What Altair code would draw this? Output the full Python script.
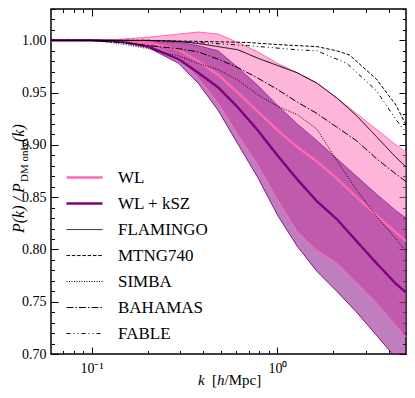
import altair as alt
import pandas as pd

# ---- data ----
k = [0.0605, 0.1, 0.141, 0.203, 0.294, 0.375, 0.48, 0.612, 0.783, 1.0,
     1.278, 1.633, 2.085, 2.664, 3.404, 4.347, 4.915]
wl_mean = [1.000, 1.000, 1.000, 0.998, 0.991, 0.980, 0.967, 0.950, 0.932, 0.914,
           0.898, 0.884, 0.868, 0.850, 0.833, 0.816, 0.808]
wl_lo = [1.000, 1.000, 1.000, 0.996, 0.984, 0.964, 0.940, 0.910, 0.881, 0.848,
         0.817, 0.799, 0.787, 0.768, 0.749, 0.727, 0.716]
wl_hi = [1.000, 1.000, 1.001, 1.003, 1.006, 1.008, 1.006, 0.998, 0.989, 0.978,
         0.969, 0.959, 0.945, 0.930, 0.915, 0.900, 0.893]
ksz_mean = [1.000, 1.000, 0.999, 0.994, 0.982, 0.969, 0.955, 0.936, 0.914, 0.890,
            0.867, 0.846, 0.829, 0.808, 0.787, 0.767, 0.759]
ksz_lo = [1.000, 1.000, 0.999, 0.993, 0.978, 0.959, 0.933, 0.901, 0.869, 0.833,
          0.803, 0.779, 0.760, 0.740, 0.718, 0.696, 0.687]
ksz_hi = [1.000, 1.000, 1.000, 0.999, 0.998, 0.995, 0.990, 0.974, 0.957, 0.938,
          0.920, 0.904, 0.887, 0.870, 0.853, 0.837, 0.830]
flamingo = [1.000, 1.000, 1.000, 1.000, 0.999, 0.997, 0.994, 0.991, 0.983, 0.976,
            0.969, 0.959, 0.945, 0.928, 0.908, 0.888, 0.879]
simba = [1.000, 1.000, 0.997, 0.992, 0.985, 0.978, 0.972, 0.962, 0.948, 0.937,
         0.929, 0.915, 0.885, 0.857, 0.832, 0.810, 0.798]
bahamas = [1.000, 1.000, 0.998, 0.995, 0.992, 0.989, 0.982, 0.974, 0.964, 0.953,
           0.941, 0.930, 0.917, 0.904, 0.887, 0.872, 0.865]
k_mtng = [0.0605, 0.2, 0.375, 0.69, 1.0, 1.633, 2.085, 2.44, 2.664, 3.404, 4.347, 4.915]
mtng = [1.000, 1.000, 0.999, 0.998, 0.996, 0.994, 0.990, 0.986, 0.980, 0.963, 0.938, 0.919]
k_fable = [0.0605, 0.203, 0.375, 0.69, 1.278, 1.633, 2.36, 3.404, 4.347, 4.915]
fable = [1.000, 1.000, 0.998, 0.995, 0.991, 0.990, 0.978, 0.952, 0.924, 0.912]

series_names = ["WL", "WL + kSZ", "FLAMINGO", "MTNG740", "SIMBA", "BAHAMAS", "FABLE"]
series_colors = ["#ff69b4", "#800080", "black", "black", "black", "black", "black"]
series_dash = [[1, 0], [1, 0], [1, 0], [3.5, 1.8], [1, 1.5], [7, 2, 1.5, 2], [4, 3, 1, 3, 1, 3]]
series_width = [2.4, 2.4, 1.0, 1.0, 1.0, 1.0, 1.0]

y_major = [0.70, 0.75, 0.80, 0.85, 0.90, 0.95, 1.00]
y_minor = [round(0.70 + 0.01 * i, 2) for i in range(34)]
x_major = [0.1, 1.0]
x_minor = [0.07, 0.08, 0.09, 0.2, 0.3, 0.4, 0.5, 0.6, 0.7, 0.8, 0.9, 2.0, 3.0, 4.0]

W, H = 355, 345
PINK, PURPLE = "#ff69b4", "#800080"
FONT = "Liberation Serif"

bands = pd.DataFrame({"k": k, "wl_lo": wl_lo, "wl_hi": wl_hi,
                      "ksz_lo": ksz_lo, "ksz_hi": ksz_hi})
rows = []
for name, ks, vs in [("WL", k, wl_mean), ("WL + kSZ", k, ksz_mean),
                     ("FLAMINGO", k, flamingo), ("MTNG740", k_mtng, mtng),
                     ("SIMBA", k, simba), ("BAHAMAS", k, bahamas),
                     ("FABLE", k_fable, fable)]:
    for a, b in zip(ks, vs):
        rows.append({"k": a, "r": b, "series": name})
lines = pd.DataFrame(rows)

xs = alt.Scale(type="log", domain=[0.0605, 4.915], nice=False)
ys = alt.Scale(domain=[0.70, 1.03], nice=False, zero=False)

base = alt.Chart(bands)

wl_band = base.mark_area(color=PINK, opacity=0.5, clip=True).encode(
    x=alt.X("k:Q", scale=xs, axis=alt.Axis(values=x_major, labelExpr="datum.value < 0.5 ? '10⁻¹' : '10⁰'",
                                          ticks=False, domain=False, grid=False, title=None,
                                          labelFontSize=14, labelPadding=7, orient="bottom")),
    y=alt.Y("wl_lo:Q", scale=ys, axis=alt.Axis(values=y_major, format=".2f", ticks=False,
                                               domain=False, grid=False, title=None,
                                               labelFontSize=14, labelPadding=5, orient="left")),
    y2="wl_hi:Q",
)
ksz_band = base.mark_area(color=PURPLE, opacity=0.5, clip=True).encode(
    x=alt.X("k:Q", scale=xs, axis=None),
    y=alt.Y("ksz_lo:Q", scale=ys, axis=None),
    y2="ksz_hi:Q",
)


def edge(field, color, op):
    return base.mark_line(color=color, strokeWidth=1, opacity=op, clip=True).encode(
        x=alt.X("k:Q", scale=xs, axis=None), y=alt.Y(f"{field}:Q", scale=ys, axis=None))


edges = [edge("wl_lo", PINK, 1.0), edge("wl_hi", PINK, 1.0),
         edge("ksz_lo", PURPLE, 0.9), edge("ksz_hi", PURPLE, 0.6)]

legend = alt.Legend(title=None, orient="none", legendX=14, legendY=156,
                    symbolType="stroke", symbolSize=1296, labelFontSize=17,
                    labelFont=FONT, rowPadding=0, padding=0, labelOffset=14,
                    clipHeight=25.1)
line_layer = alt.Chart(lines).mark_line(clip=True).encode(
    x=alt.X("k:Q", scale=xs, axis=None),
    y=alt.Y("r:Q", scale=ys, axis=None),
    color=alt.Color("series:N", scale=alt.Scale(domain=series_names, range=series_colors), legend=legend),
    strokeDash=alt.StrokeDash("series:N", scale=alt.Scale(type="ordinal", domain=series_names, range=series_dash), legend=legend),
    strokeWidth=alt.StrokeWidth("series:N", scale=alt.Scale(type="ordinal", domain=series_names, range=series_width), legend=legend),
    order=alt.Order("k:Q"),
)


def tick_axis_x(values, size, orient):
    return base.mark_line(opacity=0).encode(
        x=alt.X("k:Q", scale=xs, axis=alt.Axis(values=values, orient=orient, offset=-H, labels=False,
                                              domain=False, grid=False, title=None, tickSize=size,
                                              tickColor="black", tickWidth=1)),
        y=alt.Y("wl_hi:Q", scale=ys, axis=None))


def tick_axis_y(values, size, orient):
    return base.mark_line(opacity=0).encode(
        x=alt.X("k:Q", scale=xs, axis=None),
        y=alt.Y("wl_hi:Q", scale=ys, axis=alt.Axis(values=values, orient=orient, offset=-W, labels=False,
                                                   domain=False, grid=False, title=None, tickSize=size,
                                                   tickColor="black", tickWidth=1)))


tick_layers = [tick_axis_x(x_major, 7, "top"), tick_axis_x(x_minor, 3.5, "top"),
               tick_axis_x(x_major, 7, "bottom"), tick_axis_x(x_minor, 3.5, "bottom"),
               tick_axis_y(y_major, 7, "right"), tick_axis_y(y_minor, 3.5, "right"),
               tick_axis_y(y_major, 7, "left"), tick_axis_y(y_minor, 3.5, "left")]


def label(txt, x, y, size, italic=False, angle=0):
    return alt.Chart(pd.DataFrame({"t": [txt]})).mark_text(
        fontSize=size, fontStyle="italic" if italic else "normal", angle=angle,
        align="left", baseline="alphabetic", color="black", font=FONT
    ).encode(text="t:N", x=alt.value(x), y=alt.value(y))


titles = [
    label("P(k) / P", -27, 224, 16, True, 270),
    label("DM only", -23, 173, 11, False, 270),
    label("(k)", -27, 133, 16, True, 270),
    label("k", 147, 376, 15, True),
    label("[", 161, 376, 15),
    label("h", 166, 376, 15, True),
    label("/Mpc]", 173.5, 376, 15),
]

chart = alt.layer(
    wl_band, ksz_band, *edges, line_layer, *tick_layers, *titles
).resolve_axis(x="independent", y="independent").properties(
    width=W, height=H,
    autosize=alt.AutoSizeParams(type="none"),
    padding={"left": 43, "top": 1, "right": 1, "bottom": 36},
).configure(font=FONT).configure_view(stroke="black", strokeWidth=1.5).configure_axis(
    labelFont=FONT, labelColor="black")

chart.save("out.html", embed_options={"renderer": "svg", "actions": False})
